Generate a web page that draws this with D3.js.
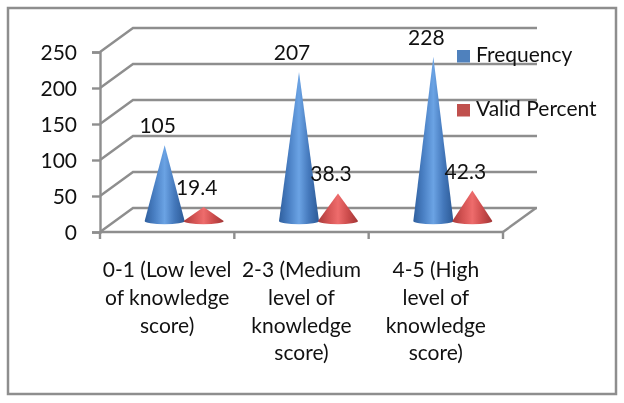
<!DOCTYPE html>
<html>
<head>
  <meta charset="utf-8">
  <title>Knowledge score</title>
  <style>
    html, body { margin: 0; padding: 0; background: #fff; }
    svg { display: block; filter: blur(0.3px); }
    text { font-family: Lato, "Open Sans", sans-serif; font-size: 21px; fill: #111; }
    .wall { stroke: #8e8e8e; stroke-width: 2.4; fill: none; }
    .axis path, .axis line { stroke: #8e8e8e; stroke-width: 2.4; }
  </style>
  <script src="https://d3js.org/d3.v7.min.js"></script>
</head>
<body>
  <script>
    var categories = ["0-1", "2-3", "4-5"];
    var categoryLines = [
      ["0-1 (Low level", "of knowledge", "score)"],
      ["2-3 (Medium", "level of", "knowledge", "score)"],
      ["4-5 (High", "level of", "knowledge", "score)"]
    ];
    var seriesNames = ["Frequency", "Valid Percent"];
    var frequency = [105, 207, 228];
    var validPercent = [19.4, 38.3, 42.3];
    var yTicks = [0, 50, 100, 150, 200, 250];

    var width = 624;
    var height = 403;
    var depthX = 33; // how far the back wall is pushed right / up
    var depthY = 24;
    var coneDepth = 0.46; // cones stand this far into the floor
    var coneShift = 17; // sideways offset of a group from its band centre
    var coneHalf = 20;

    var svg = d3.select('body').append('svg')
      .attr('width', width)
      .attr('height', height);

    var defs = svg.append('defs');
    var stops = [
      ["Frequency", ["#2f5f9e", "#4a80c4", "#6ba3e4", "#4478bb", "#2c5a96"]],
      ["Valid Percent", ["#a83a3a", "#d25252", "#ee6c6c", "#cc4c4c", "#a23636"]]
    ];
    stops.forEach(function(s, i) {
      var g = defs.append('linearGradient').attr('id', 'cone' + i);
      s[1].forEach(function(c, j) {
        g.append('stop').attr('offset', j / (s[1].length - 1)).attr('stop-color', c);
      });
    });

    svg.append('rect')
      .attr('x', 8).attr('y', 8)
      .attr('width', 608).attr('height', 386)
      .attr('fill', '#fff')
      .attr('stroke', '#8e8e8e')
      .attr('stroke-width', 2.5);

    var x0 = d3.scaleBand().domain(categories).range([100, 503]);
    var x1 = d3.scalePoint().domain(seriesNames).range([-19.5, 19.5]);
    var y = d3.scaleLinear().domain([0, 250]).range([232, 52]);

    // walls: back lines and the slanted side lines
    var walls = svg.append('g').attr('class', 'wall');
    walls.selectAll('.back')
      .data(yTicks)
      .enter().append('path')
        .attr('d', function(d) {
          var yy = y(d);
          return 'M' + x0.range()[0] + ',' + yy +
            'L' + (x0.range()[0] + depthX) + ',' + (yy - depthY) +
            'H' + (x0.range()[1] + depthX + 1);
        });
    walls.append('path')
      .attr('d', 'M' + x0.range()[1] + ',' + y(0) + 'l' + depthX + ',' + (-depthY));

    var yAxis = d3.axisLeft(y).tickValues(yTicks).tickSize(8).tickPadding(15);
    var gy = svg.append('g').attr('class', 'axis').attr('transform', 'translate(100,0)').call(yAxis);
    gy.selectAll('text').attr('dy', '0.35em');

    // x axis line with ticks between the groups
    var gx = svg.append('g').attr('class', 'axis');
    gx.append('path').attr('d', 'M' + (x0.range()[0]) + ',' + y(0) + 'H' + x0.range()[1]);
    gx.selectAll('line')
      .data(d3.range(categories.length + 1))
      .enter().append('line')
        .attr('x1', function(i) { return x0.range()[0] + i * x0.step(); })
        .attr('x2', function(i) { return x0.range()[0] + i * x0.step(); })
        .attr('y1', y(0))
        .attr('y2', y(0) + 7);

    // category labels
    var catLabel = svg.append('g').selectAll('text')
      .data(categories)
      .enter().append('text')
        .attr('text-anchor', 'middle');
    catLabel.selectAll('tspan')
      .data(function(d, i) {
        return categoryLines[i].map(function(t, j) { return {cat: d, text: t, line: j}; });
      })
      .enter().append('tspan')
        .attr('x', function(d) { return x0(d.cat) + x0.bandwidth() / 2; })
        .attr('y', function(d) { return 277 + d.line * 27.8; })
        .text(function(d) { return d.text; });

    function coneX(cat, name) {
      return x0(cat) + x0.bandwidth() / 2 + x1(name) + coneShift;
    }
    var coneBase = y(0) - depthY * coneDepth;
    // cone height keeps the wall scale, measured from its own base
    function coneTip(v) {
      return coneBase - (y(0) - y(v));
    }

    var values = [frequency, validPercent];
    var marks = [];
    seriesNames.forEach(function(name, s) {
      categories.forEach(function(cat, c) {
        marks.push({name: name, s: s, cat: cat, value: values[s][c]});
      });
    });

    svg.append('g').selectAll('path')
      .data(marks)
      .enter().append('path')
        .attr('fill', function(d) { return 'url(#cone' + d.s + ')'; })
        .attr('d', function(d) {
          var cx = coneX(d.cat, d.name);
          return 'M' + cx + ',' + coneTip(d.value) +
            'L' + (cx + coneHalf) + ',' + coneBase +
            'A' + coneHalf + ',3.2 0 0 1 ' + (cx - coneHalf) + ',' + coneBase + 'Z';
        });

    svg.append('g').selectAll('text')
      .data(marks)
      .enter().append('text')
        .attr('text-anchor', 'middle')
        .attr('x', function(d) { return coneX(d.cat, d.name) - 7; })
        .attr('y', function(d) { return coneTip(d.value) - 12; })
        .text(function(d) { return d.value; });

    // legend
    var legend = svg.append('g').selectAll('g')
      .data(seriesNames)
      .enter().append('g')
        .attr('transform', function(d, i) { return 'translate(457,' + (50 + i * 54) + ')'; });
    legend.append('rect')
      .attr('width', 13).attr('height', 12.5)
      .attr('fill', function(d, i) { return ['#4f81bd', '#c0504d'][i]; });
    legend.append('text')
      .attr('x', 19).attr('y', 12)
      .text(function(d) { return d; });
  </script>
</body>
</html>
